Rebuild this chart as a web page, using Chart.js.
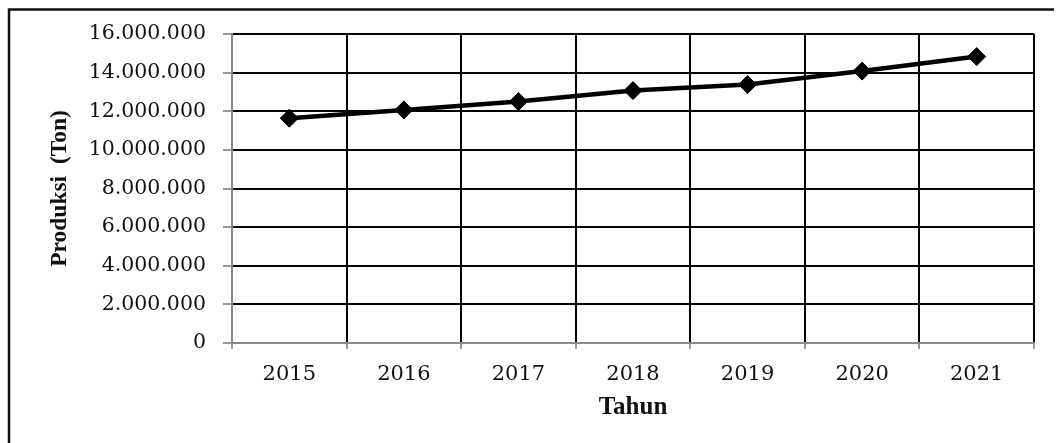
<!DOCTYPE html>
<html>
<head>
<meta charset="utf-8">
<script src="https://cdn.jsdelivr.net/npm/chart.js@4/dist/chart.umd.min.js"></script>
<style>
  html, body { margin: 0; padding: 0; background: #fff; }
  #wrap { width: 1056px; height: 443px; position: relative; }
</style>
</head>
<body>
<div id="wrap"><canvas id="c" width="1056" height="443"></canvas></div>
<script>
// Produksi per tahun (ton)
const years = ['2015', '2016', '2017', '2018', '2019', '2020', '2021'];
const produksi = [11640000, 12070000, 12500000, 13070000, 13380000, 14080000, 14830000];

// Sumbu Y: 0 s/d 16 juta, langkah 2 juta
const yMin = 0;
const yMax = 16000000;
const yStep = 2000000;

const xTitle = 'Tahun';
const yTitle = 'Produksi  (Ton)';

// Format angka dengan titik sebagai pemisah ribuan
function formatRibuan(v) {
  return String(Math.round(v)).replace(/\B(?=(\d{3})+(?!\d))/g, '.');
}

// Bingkai luar di sekeliling gambar
const frame = {
  id: 'frame',
  afterDraw(chart) {
    const ctx = chart.ctx;
    ctx.save();
    ctx.strokeStyle = '#111';
    ctx.lineWidth = 2.5;
    ctx.beginPath();
    ctx.moveTo(9, 445);
    ctx.lineTo(9, 9.5);
    ctx.lineTo(1054, 9.5);
    ctx.stroke();
    ctx.restore();
  }
};

new Chart(document.getElementById('c'), {
  type: 'line',
  data: {
    labels: years,
    datasets: [{
      data: produksi,
      borderColor: '#000',
      backgroundColor: '#000',
      borderWidth: 4.5,
      pointStyle: 'rectRot',
      pointRadius: 9,
      pointBorderWidth: 1,
      pointBackgroundColor: '#000',
      pointBorderColor: '#000',
      tension: 0,
      fill: false
    }]
  },
  options: {
    responsive: false,
    animation: false,
    devicePixelRatio: 1,
    layout: { padding: { left: 46, top: 34, right: 22, bottom: 20 } },
    plugins: { legend: { display: false }, tooltip: { enabled: false } },
    scales: {
      x: {
        offset: true,
        grid: { offset: true, color: '#000', lineWidth: 2, drawTicks: true, tickLength: 6, tickColor: '#999' },
        border: { color: '#8a8a8a', width: 2 },
        ticks: { color: '#111', padding: 13, font: { family: 'DejaVu Serif', size: 21 } },
        title: {
          display: true, text: xTitle, color: '#111',
          font: { family: 'Liberation Serif', size: 25, weight: 'bold' },
          padding: { top: 0, bottom: 0 }
        },
        afterFit(scale) { scale.height = 80; }
      },
      y: {
        min: yMin, max: yMax,
        grid: { color: '#000', lineWidth: 2, drawTicks: true, tickLength: 9, tickColor: '#999' },
        border: { color: '#8a8a8a', width: 2 },
        ticks: {
          stepSize: yStep, color: '#111', padding: 17,
          font: { family: 'DejaVu Serif', size: 20.5 },
          callback: (v) => formatRibuan(v)
        },
        title: {
          display: true, text: yTitle, color: '#111',
          font: { family: 'Liberation Serif', size: 23.5, weight: 'bold' },
          padding: { top: 0, bottom: 0 }
        },
        afterFit(scale) { scale.width = 186; }
      }
    }
  },
  plugins: [frame]
});
</script>
</body>
</html>
